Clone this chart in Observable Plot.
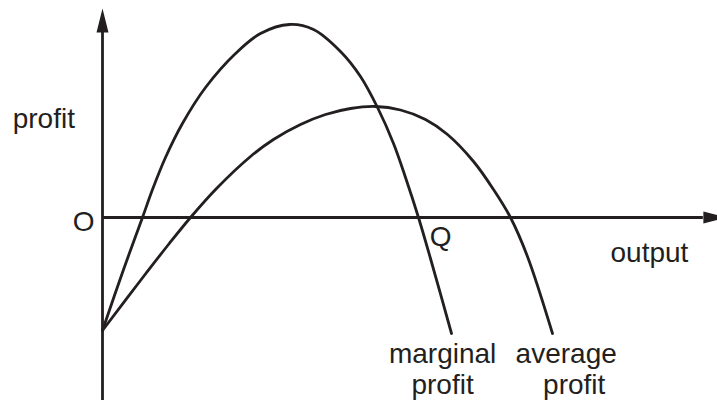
<!DOCTYPE html>
<html>
<head>
<meta charset="utf-8">
<script src="https://cdn.jsdelivr.net/npm/d3@7"></script>
<script src="https://cdn.jsdelivr.net/npm/@observablehq/plot@0.6"></script>
<style>
  html, body { margin: 0; padding: 0; background: #ffffff; }
  #chart svg { display: block; }
</style>
</head>
<body>
<div id="chart"></div>
<script>
// Marginal profit curve (output, profit)
const marginalX = [0, 3.25, 6.5, 8.13, 10.24, 13.0, 16.75, 21.63, 25.69, 30.41, 34.31, 38.7, 41.95, 44.72, 47.32, 49.27, 51.38, 53.33, 56.75];
const marginalY = [-11.3, -5.5, 0, 2.8, 6.0, 9.4, 13.0, 16.4, 18.4, 19.3, 18.8, 16.6, 14.1, 11.0, 7.4, 4.0, 0, -4.1, -11.6];

// Average profit curve (output, profit)
const averageX = [0, 6.67, 10.73, 14.31, 18.54, 24.07, 27.8, 32.2, 36.26, 40.33, 44.39, 48.46, 52.52, 56.1, 60.33, 63.58, 66.34, 69.1, 73.17];
const averageY = [-11.3, -5.9, -2.7, 0, 2.9, 6.1, 7.8, 9.3, 10.3, 10.9, 11.1, 10.75, 9.8, 8.3, 5.6, 2.8, 0, -3.9, -11.6];

// Axis extents
const yAxisBottom = -18.3, yAxisTop = 18.5;
const xAxisEnd = 97.7;

// Labels
const labelText   = ["profit", "O", "Q", "output", "marginal", "profit", "average", "profit"];
const labelX      = [-14.6, -1.3, 53.2, 82.6, 55.3, 55.3, 75.4, 76.7];
const labelY      = [9.0, -1.3, -2.8, -4.4, -14.5, -17.6, -14.5, -17.6];
const labelAnchor = ["start", "end", "start", "start", "middle", "middle", "middle", "middle"];

const ink = "#231f20";
const font = "'Liberation Sans', Arial, Helvetica, sans-serif";

const marginal = marginalX.map((x, i) => ({x, y: marginalY[i]}));
const average = averageX.map((x, i) => ({x, y: averageY[i]}));
const labels = labelText.map((t, i) => ({t, x: labelX[i], y: labelY[i], a: labelAnchor[i]}));

const arrowUp = {draw(ctx) { ctx.moveTo(0, -24); ctx.lineTo(6, 0); ctx.lineTo(-6, 0); ctx.closePath(); }};
const arrowRight = {draw(ctx) { ctx.moveTo(24, 0); ctx.lineTo(0, -6); ctx.lineTo(0, 6); ctx.closePath(); }};

const textMarks = ["start", "middle", "end"].map(a =>
  Plot.text(labels.filter(d => d.a === a), {
    x: "x", y: "y", text: "t", textAnchor: a, lineAnchor: "bottom",
    fontSize: 28, fontFamily: font, fill: ink
  })
);

const chart = Plot.plot({
  width: 717,
  height: 403,
  marginLeft: 102,
  marginRight: 0,
  marginTop: 0,
  marginBottom: 0,
  x: {domain: [0, 100], axis: null},
  y: {domain: [-18.6, 21.7], axis: null},
  style: {background: "#ffffff", overflow: "visible"},
  marks: [
    Plot.ruleX([0], {y1: yAxisBottom, y2: yAxisTop, stroke: ink, strokeWidth: 2.8}),
    Plot.ruleY([0], {x1: 0, x2: xAxisEnd, stroke: ink, strokeWidth: 2.8}),
    Plot.dot([{x: 0, y: yAxisTop}], {x: "x", y: "y", symbol: arrowUp, fill: ink, stroke: null}),
    Plot.dot([{x: xAxisEnd, y: 0}], {x: "x", y: "y", symbol: arrowRight, fill: ink, stroke: null}),
    Plot.line(marginal, {x: "x", y: "y", curve: "catmull-rom", stroke: ink, strokeWidth: 2.8}),
    Plot.line(average, {x: "x", y: "y", curve: "catmull-rom", stroke: ink, strokeWidth: 2.8}),
    ...textMarks
  ]
});
document.getElementById("chart").appendChild(chart);
</script>
</body>
</html>
